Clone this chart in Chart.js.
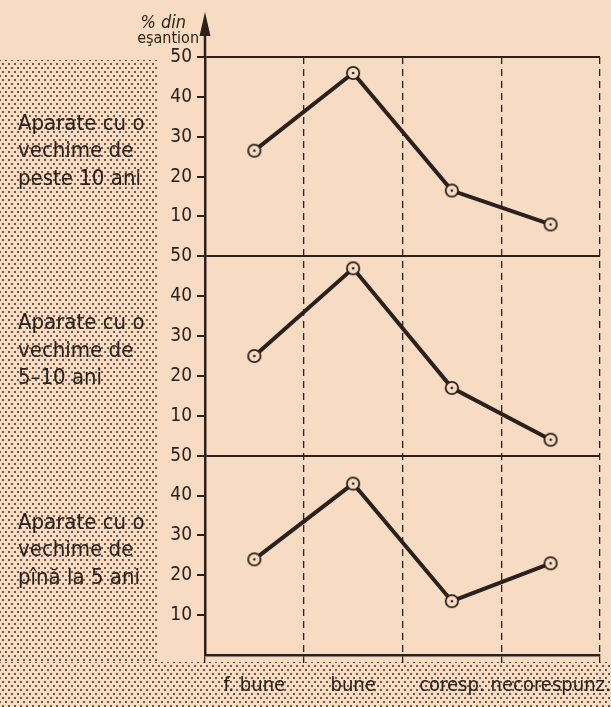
<!DOCTYPE html>
<html>
<head>
<meta charset="utf-8">
<title>Aparate - stare tehnica</title>
<script src="https://cdn.jsdelivr.net/npm/chart.js@4/dist/chart.umd.min.js"></script>
<style>
  html, body { margin: 0; padding: 0; background: #f7dbc3; }
  #wrap { position: relative; width: 611px; height: 707px; overflow: hidden; }
  .dots {
    position: absolute;
    background-image:
      radial-gradient(circle, rgba(80, 62, 50, 0.85) 0.75px, transparent 1.2px),
      radial-gradient(circle, rgba(80, 62, 50, 0.85) 0.75px, transparent 1.2px);
    background-size: 6px 8px;
    background-position: 0 0, 3px 4px;
  }
  #dotsLeft { left: 0; top: 60px; width: 157px; height: 602px; }
  #dotsBottom { left: 0; top: 662px; width: 611px; height: 45px; }
  #chart { position: absolute; left: 0; top: 0; }
</style>
</head>
<body>
<div id="wrap">
  <div class="dots" id="dotsLeft"></div>
  <div class="dots" id="dotsBottom"></div>
  <canvas id="chart" width="611" height="707"></canvas>
</div>
<script>
// Categories (stare tehnica)
const categories = ['f. bune', 'bune', 'coresp.', 'necorespunz.'];

// % din esantion, one series per age group
const over10 = [26.5, 46, 16.5, 8];
const from5to10 = [25, 47, 17, 4];
const under5 = [24, 43, 13.5, 23];

// Group labels, top to bottom
const groupLabels = [
    ['Aparate cu o', 'vechime de', 'peste 10 ani'],
    ['Aparate cu o', 'vechime de', '5–10 ani'],
    ['Aparate cu o', 'vechime de', 'pînă la 5 ani']
];
const axisTitle = ['% din', 'eşantion'];
const yMin = 0;
const yMax = 50;
const yStep = 10;

const INK = '#2a211c';
const PAPER = '#f7dbc3';
const FONT = '"DejaVu Sans Condensed", "Liberation Sans Narrow", "DejaVu Sans", sans-serif';

// Marker: open circle with a dot in the middle
const makeMarker = () => {
    const c = document.createElement('canvas');
    c.width = 16;
    c.height = 16;
    const g = c.getContext('2d');
    g.fillStyle = PAPER;
    g.strokeStyle = INK;
    g.lineWidth = 1.8;
    g.beginPath();
    g.arc(8, 8, 6.2, 0, Math.PI * 2);
    g.fill();
    g.stroke();
    g.fillStyle = INK;
    g.beginPath();
    g.arc(8, 8, 1.3, 0, Math.PI * 2);
    g.fill();
    return c;
};
const marker = makeMarker();

// One stacked y axis per panel (first defined ends up at the bottom)
const panelAxis = (isBottom) => ({
    type: 'linear',
    position: 'left',
    stack: 'panels',
    stackWeight: 1,
    min: yMin,
    max: yMax,
    offset: false,
    afterFit: (scale) => { scale.width = 205; },
    border: { display: true, color: INK, width: 2.5 },
    grid: {
        drawOnChartArea: true,
        color: (ctx) => (ctx.tick && ctx.tick.value === yMax ? INK : 'rgba(0,0,0,0)'),
        lineWidth: 2,
        tickLength: 8,
        tickWidth: 2,
        tickColor: (ctx) => (ctx.tick && ctx.tick.value === yMin && isBottom ? 'rgba(0,0,0,0)' : INK)
    },
    ticks: {
        stepSize: yStep,
        autoSkip: false,
        padding: 5,
        color: INK,
        font: { family: FONT, size: 19 },
        callback: (v) => (v === yMin ? '' : v)
    }
});

const lineSet = (data, axis) => ({
    data,
    yAxisID: axis,
    borderColor: INK,
    borderWidth: 4,
    pointStyle: marker,
    pointRadius: 7,
    pointHoverRadius: 7,
    tension: 0,
    clip: false
});

// Arrow, axis title and group labels
const decor = {
    id: 'decor',
    afterDraw(chart) {
        const ctx = chart.ctx;
        const area = chart.chartArea;
        const x = area.left;
        ctx.save();
        ctx.strokeStyle = INK;
        ctx.fillStyle = INK;
        ctx.lineWidth = 2.5;
        ctx.beginPath();
        ctx.moveTo(x, area.top);
        ctx.lineTo(x, 24);
        ctx.stroke();
        ctx.beginPath();
        ctx.moveTo(x, 12);
        ctx.lineTo(x - 5.5, 36);
        ctx.lineTo(x + 5.5, 36);
        ctx.closePath();
        ctx.fill();

        ctx.textAlign = 'right';
        ctx.textBaseline = 'alphabetic';
        ctx.font = 'italic 18px ' + FONT;
        ctx.fillText(axisTitle[0], 186, 28);
        ctx.font = '16px ' + FONT;
        ctx.fillText(axisTitle[1], 199, 43);

        ctx.textAlign = 'left';
        ctx.textBaseline = 'middle';
        ctx.font = '22px ' + FONT;
        ['yTop', 'yMid', 'yBottom'].forEach((id, i) => {
            const s = chart.scales[id];
            const mid = (s.top + s.bottom) / 2 - 5;
            groupLabels[i].forEach((line, j) => {
                ctx.fillText(line, 18, mid + (j - 1) * 27.5);
            });
        });
        ctx.restore();
    }
};

new Chart(document.getElementById('chart'), {
    type: 'line',
    data: {
        labels: categories,
        datasets: [
            lineSet(over10, 'yTop'),
            lineSet(from5to10, 'yMid'),
            lineSet(under5, 'yBottom')
        ]
    },
    options: {
        responsive: false,
        animation: false,
        events: [],
        layout: { padding: { top: 57, right: 3, bottom: 0, left: 0 } },
        plugins: {
            legend: { display: false },
            tooltip: { enabled: false }
        },
        scales: {
            x: {
                type: 'category',
                offset: true,
                afterFit: (scale) => {
                    scale.height = 52;
                    scale.paddingLeft = 0;
                    scale.paddingRight = 0;
                },
                border: { display: true, color: INK, width: 2.5, dash: [7, 5] },
                grid: {
                    offset: true,
                    color: INK,
                    lineWidth: 1.3,
                    tickLength: 8,
                    tickColor: INK,
                    tickWidth: 1.3
                },
                ticks: {
                    padding: 11,
                    color: INK,
                    maxRotation: 0,
                    autoSkip: false,
                    font: { family: FONT, size: 20 }
                }
            },
            yBottom: panelAxis(true),
            yMid: panelAxis(false),
            yTop: panelAxis(false)
        }
    },
    plugins: [decor]
});
</script>
</body>
</html>
